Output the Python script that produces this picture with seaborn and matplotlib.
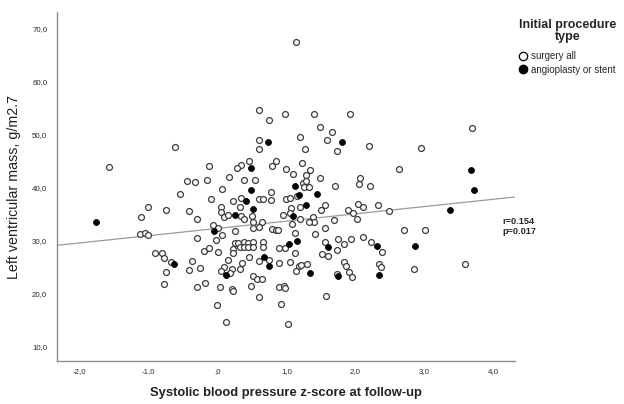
import matplotlib
matplotlib.use("Agg")
import matplotlib.pyplot as plt
import seaborn as sns
import pandas as pd
from matplotlib.lines import Line2D
from matplotlib.ticker import FuncFormatter, FixedLocator

# ---------------- data ----------------
# (SBP z-score at follow-up, LV mass g/m2.7)
surgery_pts = [
    (-0.61, 47.8), (-1.57, 44.0), (-0.44, 41.3), (-0.54, 38.9), (-1.01, 36.5), (-0.75, 35.8),
    (-0.41, 35.7), (-1.11, 34.5), (-1.13, 31.3), (-1.05, 31.6), (-1.01, 31.1), (-0.91, 27.7),
    (-0.80, 27.7), (-0.78, 26.8), (-0.68, 26.1), (-0.75, 24.2), (-0.41, 24.5), (-0.77, 21.8),
    (0.60, 54.7), (0.98, 53.9), (1.40, 54.0), (0.75, 52.8), (1.49, 51.5), (1.66, 50.6),
    (1.20, 49.7), (1.59, 49.1), (0.60, 49.1), (0.60, 47.4), (1.27, 47.3), (1.74, 47.0),
    (0.46, 45.0), (0.85, 45.0), (0.79, 44.2), (1.23, 44.8), (-0.13, 44.2), (0.34, 44.4),
    (0.28, 43.8), (1.00, 43.5), (1.10, 42.7), (1.34, 43.3), (1.28, 42.5), (-0.32, 41.1),
    (-0.15, 41.5), (0.17, 42.0), (0.38, 41.6), (0.55, 41.5), (1.49, 41.8), (1.24, 41.0),
    (1.29, 41.4), (1.26, 40.2), (1.33, 40.1), (1.71, 40.4), (0.07, 39.9), (0.78, 39.2),
    (1.15, 38.4), (-0.10, 38.0), (0.34, 38.2), (0.23, 37.5), (0.61, 37.9), (0.66, 37.9),
    (0.78, 37.8), (1.00, 37.9), (1.06, 38.2), (1.56, 36.8), (0.05, 36.5), (0.33, 36.5),
    (1.20, 36.5), (1.07, 36.2), (1.51, 35.8),
    (0.05, 35.5), (0.10, 34.6), (0.16, 34.9), (0.34, 34.7), (0.38, 34.1), (0.50, 34.7),
    (0.51, 33.6), (0.64, 33.6), (0.95, 34.9), (1.06, 35.3), (1.20, 34.1), (1.38, 34.5),
    (1.40, 33.6), (1.33, 33.5), (1.08, 33.2), (-0.30, 34.2), (-0.06, 33.0), (0.01, 32.4),
    (0.07, 31.2), (0.26, 31.9), (0.52, 32.5), (0.60, 32.7), (0.79, 32.2), (0.85, 32.1),
    (0.88, 32.1), (1.12, 31.6), (1.41, 31.3), (1.56, 32.4), (1.69, 34.0), (1.75, 30.3),
    (-0.30, 30.6), (-0.02, 30.1), (-0.20, 28.2), (-0.13, 28.6), (0.01, 28.0), (0.26, 29.6),
    (0.30, 29.7), (0.38, 29.8), (0.44, 29.7), (0.51, 29.8), (0.66, 29.9), (0.23, 28.4),
    (0.33, 28.9), (0.38, 28.9), (0.45, 28.9), (0.52, 28.9), (0.66, 28.9), (0.22, 27.7),
    (0.90, 28.7), (0.98, 28.7), (0.46, 26.9), (0.61, 26.3), (0.75, 26.4), (0.90, 25.9),
    (1.06, 26.0), (1.13, 27.7), (1.56, 29.9), (1.52, 27.5), (1.61, 27.2), (1.73, 28.3),
    (-0.37, 26.2), (-0.25, 24.9), (0.16, 26.4), (0.35, 25.9), (0.32, 24.7), (0.21, 24.7),
    (0.09, 25.0), (0.05, 24.4), (0.18, 23.9), (1.18, 25.3), (1.21, 25.4), (1.30, 25.7),
    (1.14, 24.4), (1.73, 23.8), (0.52, 23.4), (0.58, 22.8), (0.64, 22.9), (0.49, 21.5),
    (0.21, 20.9), (0.23, 20.6), (-0.18, 22.1), (-0.30, 21.4), (0.04, 21.3), (0.90, 21.3),
    (0.96, 21.5), (0.98, 21.1), (0.60, 19.5), (1.58, 19.6), (0.00, 17.9), (0.92, 18.2),
    (0.12, 14.8), (1.03, 14.3),
    (1.93, 54.0), (3.70, 51.3), (2.20, 48.0), (2.95, 47.5), (2.64, 43.5), (2.07, 41.9),
    (2.05, 40.8), (2.22, 40.4), (2.04, 36.9), (2.11, 36.5), (2.33, 36.7), (1.90, 35.8),
    (2.49, 35.6), (1.97, 35.2), (2.02, 34.2), (2.71, 32.1), (3.01, 32.0), (1.94, 30.3),
    (2.11, 30.7), (2.23, 29.8), (1.84, 29.5), (2.39, 27.9), (1.84, 26.1), (1.86, 25.2),
    (1.91, 24.1), (1.95, 23.2), (2.35, 25.7), (2.37, 25.0), (2.85, 24.8), (3.59, 25.6),
    (1.14, 67.5),
]
stent_pts = [
    (-1.77, 33.5), (-0.63, 25.6), (0.74, 48.6), (0.49, 43.7), (1.13, 40.4), (0.49, 39.7),
    (1.19, 38.7), (1.45, 38.9), (0.42, 37.5), (1.28, 36.8), (0.52, 36.1), (0.26, 34.9),
    (1.10, 34.7), (-0.05, 31.9), (1.04, 29.4), (1.16, 30.0), (0.67, 26.9), (0.75, 25.3),
    (1.61, 28.9), (0.13, 23.6), (1.35, 24.0), (1.75, 23.4), (1.81, 48.7), (3.68, 43.3),
    (3.73, 39.6), (3.37, 35.9), (2.31, 29.1), (2.87, 29.1), (2.34, 23.6),
]
group_labels = ["surgery all", "angioplasty or stent"]
legend_title = "Initial procedure\ntype"
x_label = "Systolic blood pressure z-score at follow-up"
y_label = "Left ventricular mass, g/m2.7"
x_ticks = [-2, -1, 0, 1, 2, 3, 4]
y_ticks = [10, 20, 30, 40, 50, 60, 70]
x_range = (-2.33, 4.32)
y_range = (7.36, 73.2)
stat_text = "r=0.154\np=0.017"

# ---------------- frame ----------------
df_s = pd.DataFrame(surgery_pts, columns=["x", "y"])
df_s["group"] = group_labels[0]
df_a = pd.DataFrame(stent_pts, columns=["x", "y"])
df_a["group"] = group_labels[1]
df = pd.concat([df_s, df_a], ignore_index=True)

sns.set_style("white")
plt.rcParams["font.family"] = ["Liberation Sans", "DejaVu Sans"]

fig = plt.figure(figsize=(6.24, 4.04), dpi=100)
ax = fig.add_axes([57 / 624, 1 - 361 / 404, (515 - 57) / 624, (361 - 12) / 404])

ax.set_xlim(*x_range)
ax.set_ylim(*y_range)

# regression line across the whole axis
sns.regplot(data=df, x="x", y="y", scatter=False, ci=None, truncate=False,
            color="#9a9a9a", line_kws={"linewidth": 0.9, "zorder": 2}, ax=ax)

sns.scatterplot(data=df_s, x="x", y="y", color="white", edgecolor="#3c3c3c",
                linewidth=0.9, s=18, marker="o", ax=ax, zorder=3, legend=False)
sns.scatterplot(data=df_a, x="x", y="y", color="black", edgecolor="black",
                linewidth=0.6, s=18, marker="o", ax=ax, zorder=4, legend=False)

ax.set_xlim(*x_range)
ax.set_ylim(*y_range)


def spss_fmt(v, pos=None):
    s = f"{v:.1f}".replace(".", ",")
    if s.startswith("0,"):
        s = s[1:]
    return s


ax.xaxis.set_major_locator(FixedLocator(x_ticks))
ax.yaxis.set_major_locator(FixedLocator(y_ticks))
ax.xaxis.set_major_formatter(FuncFormatter(spss_fmt))
ax.yaxis.set_major_formatter(FuncFormatter(spss_fmt))
ax.tick_params(axis="both", length=0, labelsize=5.7, colors="#2a2a2a")
ax.tick_params(axis="x", pad=5)
ax.tick_params(axis="y", pad=7)

for side in ["top", "right"]:
    ax.spines[side].set_visible(False)
for side in ["left", "bottom"]:
    ax.spines[side].set_color("#8c8c8c")
    ax.spines[side].set_linewidth(1.0)

ax.set_xlabel(x_label, fontsize=9.4, fontweight="bold", color="#222222", labelpad=9)
ax.set_ylabel(y_label, fontsize=10.3, color="#222222", labelpad=8)

# legend
handles = [
    Line2D([], [], linestyle="none", marker="o", markersize=6.0,
           markerfacecolor="white", markeredgecolor="black", markeredgewidth=0.9),
    Line2D([], [], linestyle="none", marker="o", markersize=6.0,
           markerfacecolor="black", markeredgecolor="black"),
]
leg = fig.legend(handles, group_labels, title=legend_title, loc="upper left",
                 bbox_to_anchor=(519 / 624, 1 - 19 / 404), bbox_transform=fig.transFigure,
                 frameon=False, fontsize=7.0, title_fontsize=9.0,
                 handlelength=0.8, handletextpad=0.45, labelspacing=0.35,
                 borderpad=0, borderaxespad=0)
leg.get_title().set_fontweight("bold")
leg.get_title().set_multialignment("center")
leg.get_title().set_linespacing(1.0)
leg._legend_box.sep = 6

fig.text(502 / 624, 1 - 217 / 404, stat_text, ha="left", va="top",
         fontsize=6.6, fontweight="bold", linespacing=1.2,
         family=["Liberation Sans Narrow", "Liberation Sans", "DejaVu Sans"])

fig.savefig("out.png", dpi=100)
